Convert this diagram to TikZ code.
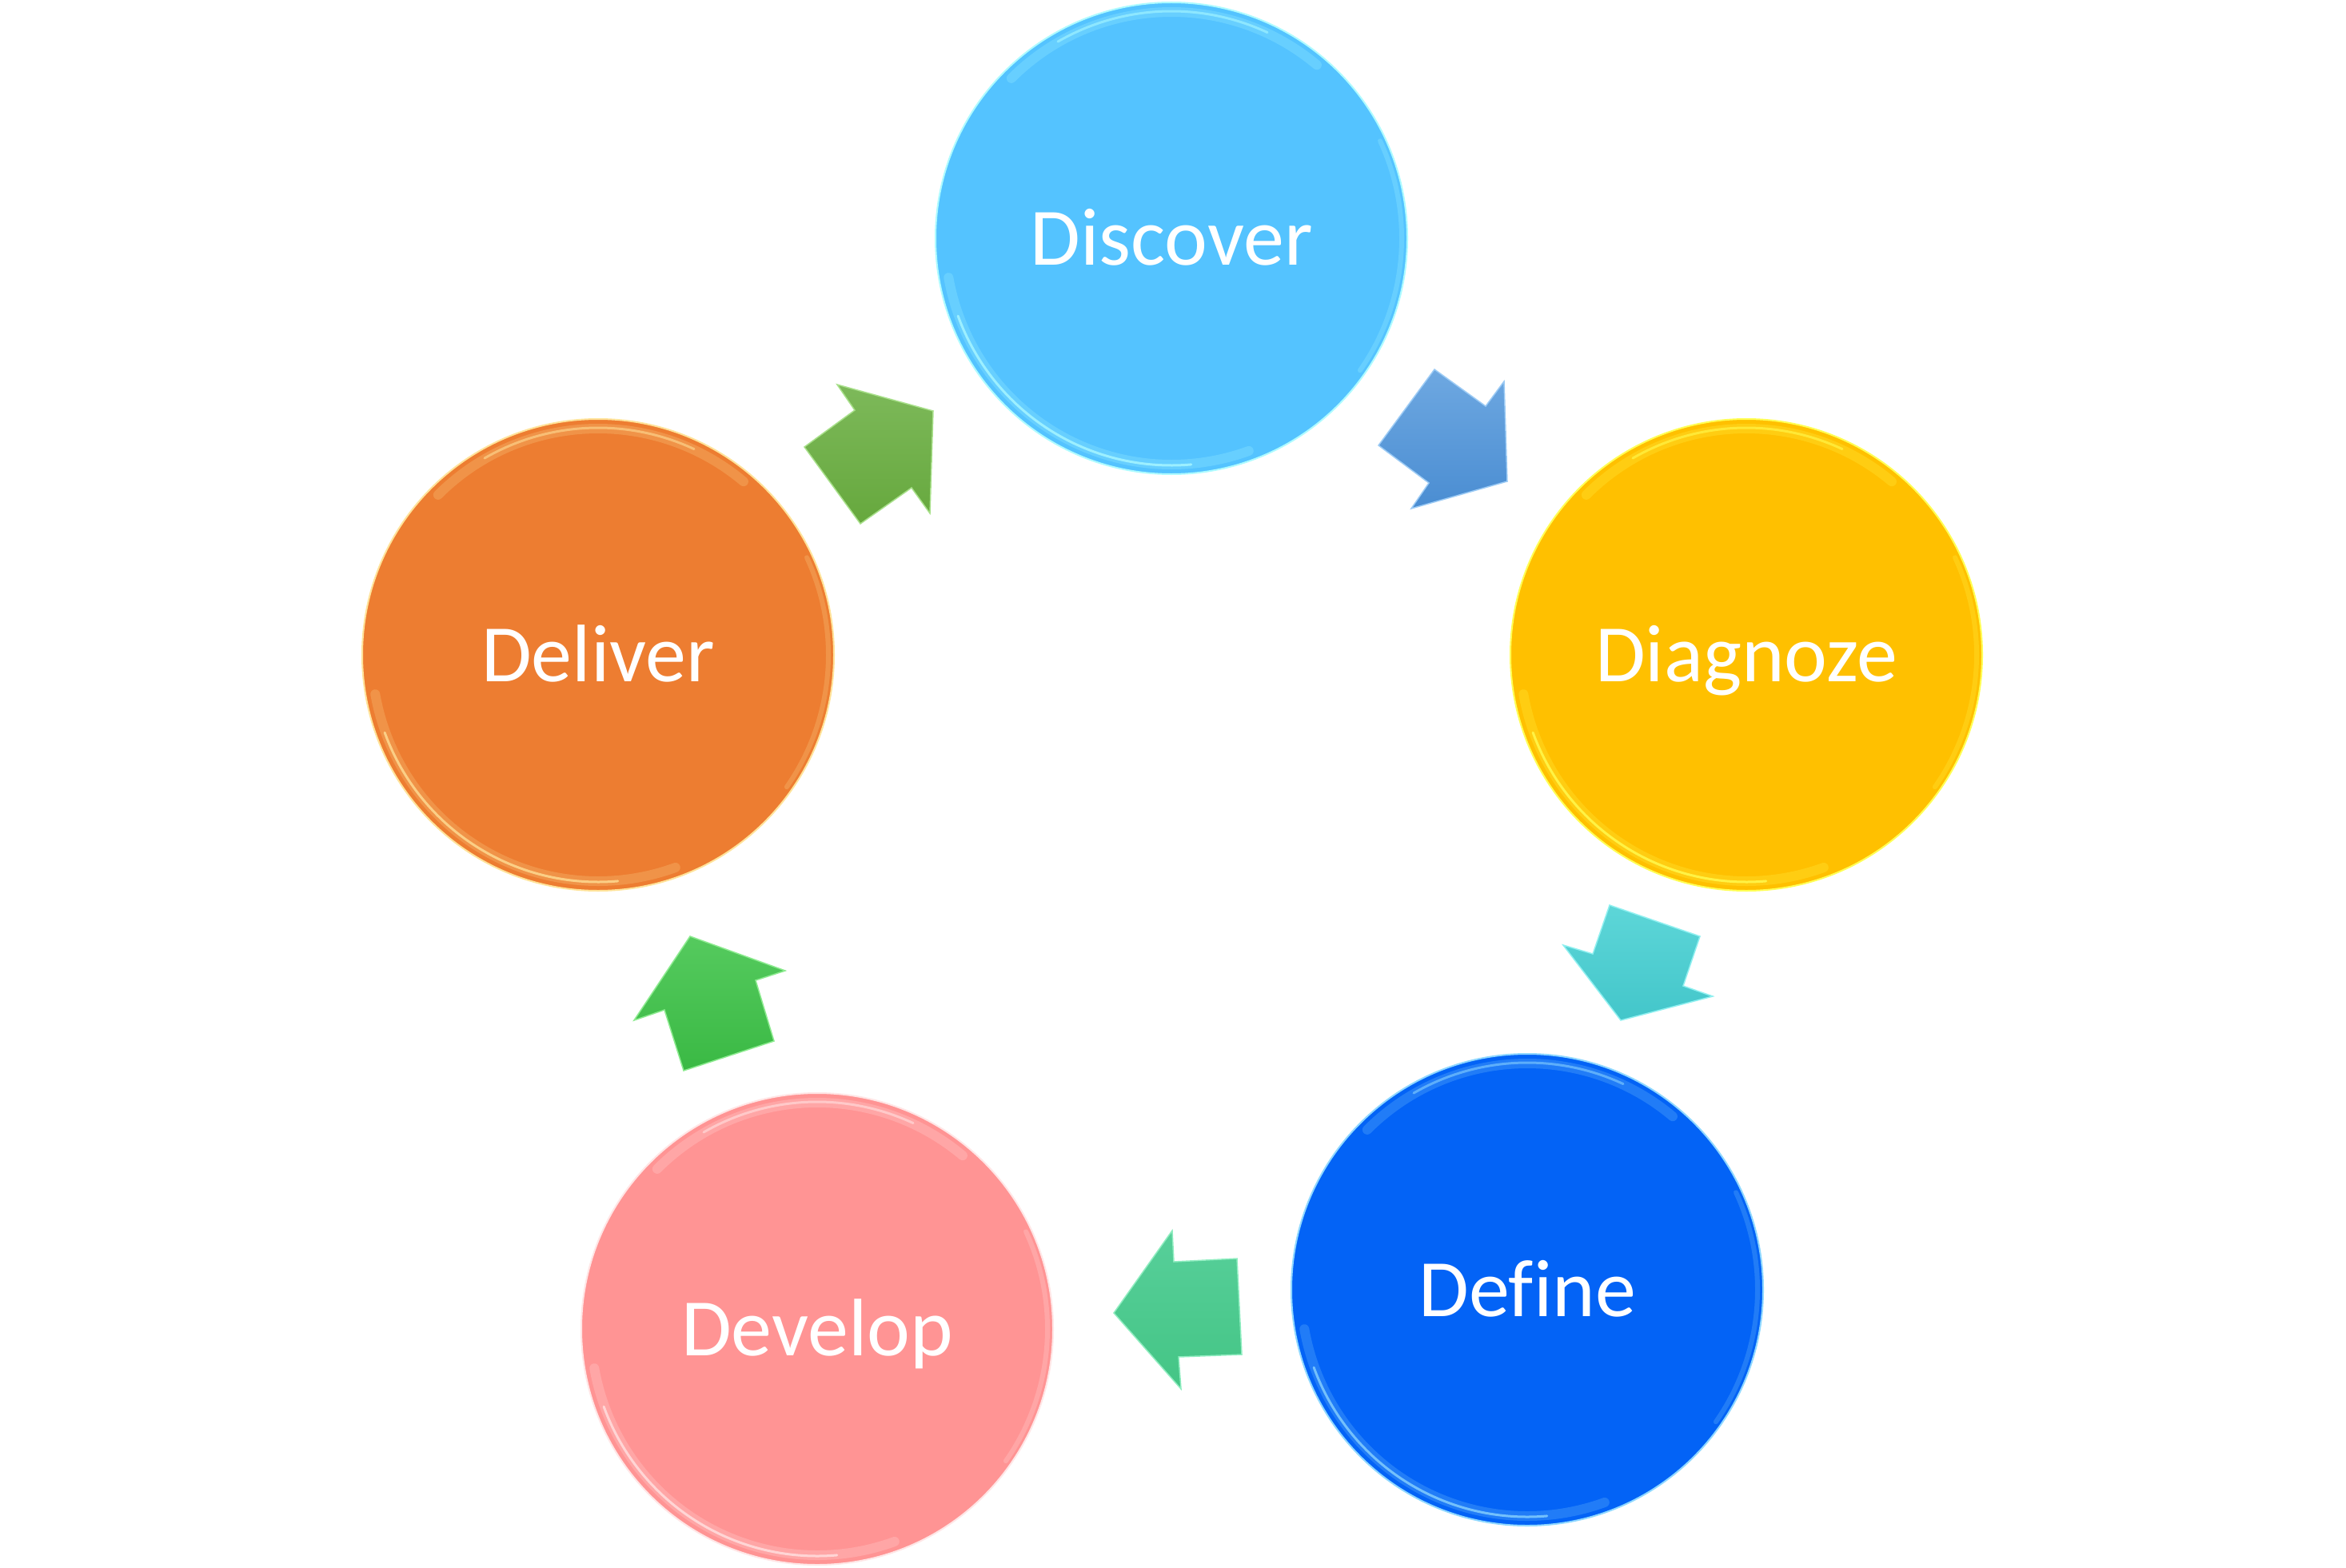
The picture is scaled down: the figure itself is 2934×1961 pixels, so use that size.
\documentclass[tikz,border=0pt]{standalone}
\usepackage{fontspec}
\setmainfont{Carlito}[Ligatures=CommonOff]
\definecolor{discC}{HTML}{54C3FF}
\definecolor{discR}{HTML}{AEFBFF}
\definecolor{diagC}{HTML}{FFC000}
\definecolor{diagR}{HTML}{FFFF55}
\definecolor{defC}{HTML}{0363F6}
\definecolor{defR}{HTML}{8FD8FF}
\definecolor{devC}{HTML}{FF9494}
\definecolor{devR}{HTML}{FFE6E6}
\definecolor{delC}{HTML}{ED7D31}
\definecolor{delR}{HTML}{FFE39A}
\definecolor{aOneT}{HTML}{6EA8E1}
\definecolor{aOneB}{HTML}{4A8DD2}
\definecolor{aOneE}{HTML}{9CCBF5}
\definecolor{aTwoT}{HTML}{5DD6D8}
\definecolor{aTwoB}{HTML}{43C6CA}
\definecolor{aTwoE}{HTML}{8FF0F0}
\definecolor{aThrT}{HTML}{57CF9A}
\definecolor{aThrB}{HTML}{44C585}
\definecolor{aThrE}{HTML}{8FEDC0}
\definecolor{aFouT}{HTML}{55CA5E}
\definecolor{aFouB}{HTML}{3AB944}
\definecolor{aFouE}{HTML}{8CEB8F}
\definecolor{aFivT}{HTML}{7DB95A}
\definecolor{aFivB}{HTML}{66A83D}
\definecolor{aFivE}{HTML}{A8E08A}
\tikzset{
  stage/.style={circle, minimum size=590pt, inner sep=0pt, text=white,
    font=\fontsize{102}{110}\selectfont, text height=66pt, text depth=0pt, line width=2pt},
  softrim/.style={line width=12pt, line cap=round, opacity=0.22},
  hardrim/.style={line width=3pt, line cap=round, opacity=0.55},
  blockarrow/.style={line width=1.5pt, line join=miter}
}
\newcommand\glint[2]{%
  \draw[softrim, draw=#2] (#1.center) ++(50:283pt) arc[start angle=50,end angle=135,radius=283pt];
  \draw[hardrim, draw=#2] (#1.center) ++(65:284pt) arc[start angle=65,end angle=120,radius=284pt];
  \draw[softrim, draw=#2] (#1.center) ++(190:283pt) arc[start angle=190,end angle=290,radius=283pt];
  \draw[hardrim, draw=#2, opacity=0.75] (#1.center) ++(200:284pt) arc[start angle=200,end angle=275,radius=284pt];
  \draw[softrim, draw=#2, line width=6pt] (#1.center) ++(-35:288pt) arc[start angle=-35,end angle=25,radius=288pt];
}
\begin{document}
\begin{tikzpicture}[x=1pt,y=-1pt]
\useasboundingbox[fill=white] (0,0) rectangle (2934,1961);

% stages
\node[stage, fill=discC, draw=discR] (discover) at (1465,298) {Discover};
\node[stage, fill=diagC, draw=diagR] (diagnoze) at (2184,819) {Diagnoze};
\node[stage, fill=defC, draw=defR] (define) at (1910,1613) {Define};
\node[stage, fill=devC, draw=devR] (develop) at (1022,1662) {Develop};
\node[stage, fill=delC, draw=delR] (deliver) at (748,819) {Deliver};

\glint{discover}{discR}
\glint{diagnoze}{diagR}
\glint{define}{defR}
\glint{develop}{devR}
\glint{deliver}{delR}

% block arrows
\shade[blockarrow, top color=aOneT, bottom color=aOneB, draw=aOneE]
  (1724,557) -- (1794,462) -- (1858,508) -- (1881,477) -- (1885,602) -- (1765,636) -- (1787,604) -- cycle;
\shade[blockarrow, top color=aTwoT, bottom color=aTwoB, draw=aTwoE]
  (2013,1132) -- (2126,1171) -- (2105,1233) -- (2142,1246) -- (2027,1276) -- (1955,1182) -- (1992,1193) -- cycle;
\shade[blockarrow, top color=aThrT, bottom color=aThrB, draw=aThrE]
  (1547,1574) -- (1553,1694) -- (1474,1697) -- (1477,1737) -- (1393,1642) -- (1466,1539) -- (1468,1578) -- cycle;
\shade[blockarrow, top color=aFouT, bottom color=aFouB, draw=aFouE]
  (968,1302) -- (855,1339) -- (831,1263) -- (793,1276) -- (863,1171) -- (982,1214) -- (945,1226) -- cycle;
\shade[blockarrow, top color=aFivT, bottom color=aFivB, draw=aFivE]
  (1006,559) -- (1076,655) -- (1140,610) -- (1163,642) -- (1167,514) -- (1047,481) -- (1069,513) -- cycle;
\end{tikzpicture}
\end{document}
